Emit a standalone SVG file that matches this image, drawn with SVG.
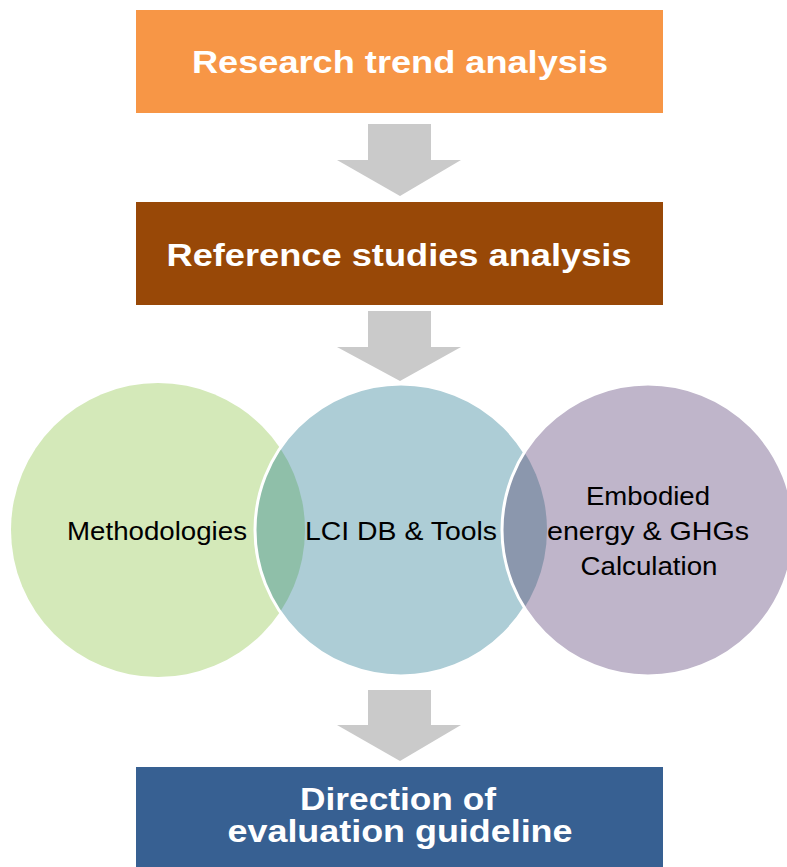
<svg xmlns="http://www.w3.org/2000/svg" width="787" height="867" viewBox="0 0 787 867">
<style>
.bt{font-family:"Liberation Sans",Arial,sans-serif;font-weight:bold;fill:#ffffff;text-anchor:middle}
.ct{font-family:"Liberation Sans",Arial,sans-serif;fill:#000000;text-anchor:middle;font-size:26.5px}
.arr{fill:#cacaca}
.ring{fill:none;stroke:#ffffff;stroke-width:3}
</style>
<defs>
<clipPath id="clipBlue"><circle cx="401" cy="530" r="146"/></clipPath>
</defs>
<rect width="787" height="867" fill="#ffffff"/>
<g id="connectors">
<path class="arr" d="M368,124 H431 V160 H461 L400,196 L337,160 H368 Z"/>
<path class="arr" d="M368,311 H431 V347 H461 L400,381 L337,347 H368 Z"/>
<path class="arr" d="M368,690 H431 V725 H461 L400,761 L337,725 H368 Z"/>
</g>
<g id="node-research">
<rect x="136" y="10" width="527" height="103" fill="#f79646"/>
<text class="bt" x="400" y="73" font-size="32" textLength="416" lengthAdjust="spacingAndGlyphs">Research trend analysis</text>
</g>
<g id="node-reference">
<rect x="136" y="202" width="527" height="103" fill="#984807"/>
<text class="bt" x="399" y="266" font-size="32" textLength="465" lengthAdjust="spacingAndGlyphs">Reference studies analysis</text>
</g>
<g id="node-methodologies">
<circle cx="158" cy="530" r="147" fill="#d4e9b9"/>
</g>
<g id="node-lci">
<circle cx="401" cy="530" r="146" fill="#adcdd6"/>
<circle cx="158" cy="530" r="147" fill="#8fbfa9" clip-path="url(#clipBlue)"/>
<circle class="ring" cx="401" cy="530" r="146"/>
</g>
<g id="node-embodied">
<circle cx="648" cy="530" r="146" fill="#bfb5ca"/>
<circle cx="648" cy="530" r="146" fill="#8b97ad" clip-path="url(#clipBlue)"/>
<circle class="ring" cx="648" cy="530" r="146"/>
</g>
<g id="circle-labels">
<text class="ct" x="157" y="540" textLength="180" lengthAdjust="spacingAndGlyphs">Methodologies</text>
<text class="ct" x="401" y="540" textLength="192" lengthAdjust="spacingAndGlyphs">LCI DB &amp; Tools</text>
<text class="ct" x="648" y="505" textLength="124" lengthAdjust="spacingAndGlyphs">Embodied</text>
<text class="ct" x="648" y="540" textLength="202" lengthAdjust="spacingAndGlyphs">energy &amp; GHGs</text>
<text class="ct" x="649" y="575" textLength="137" lengthAdjust="spacingAndGlyphs">Calculation</text>
</g>
<g id="node-direction">
<rect x="136" y="767" width="527" height="100" fill="#376092"/>
<text class="bt" x="398" y="810" font-size="31" textLength="196" lengthAdjust="spacingAndGlyphs">Direction of</text>
<text class="bt" x="400" y="842" font-size="31" textLength="345" lengthAdjust="spacingAndGlyphs">evaluation guideline</text>
</g>
</svg>
